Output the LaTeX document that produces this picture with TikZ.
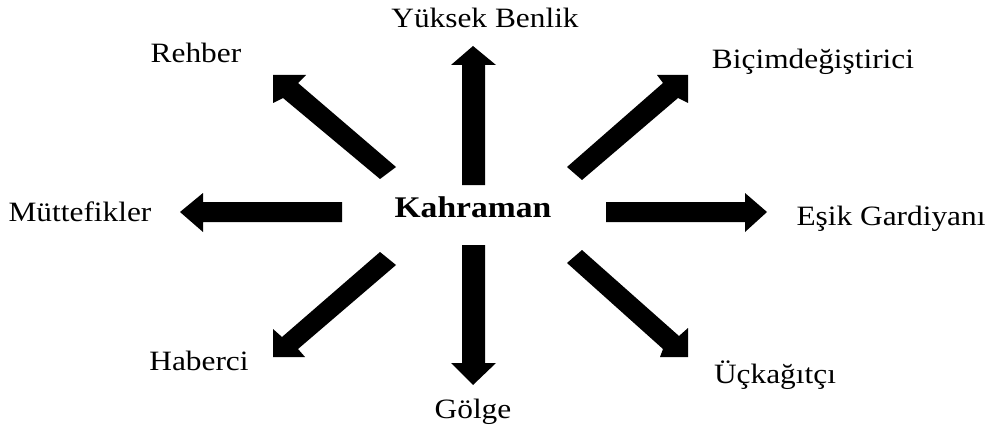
\documentclass[tikz,border=0pt]{standalone}
\usepackage{fontspec}
\setmainfont[FakeStretch=1.12]{Liberation Serif}
\begin{document}
\begin{tikzpicture}[x=1pt,y=1pt,
  label/.style={anchor=base,inner sep=0pt,font=\fontsize{28}{32}\selectfont},
  hero/.style={anchor=base,inner sep=0pt,font=\fontsize{30}{34}\selectfont\bfseries},
  blockarrow/.style={fill=black,draw=none}]
\useasboundingbox (0,0) rectangle (987,429);

% centre and surrounding archetypes
\node[hero]  (kahraman) at (473,212) {Kahraman};
\node[label] (yuksek)   at (485,401) {Yüksek Benlik};
\node[label] (rehber)   at (196,366) {Rehber};
\node[label] (bicim)    at (813,360) {Biçimdeğiştirici};
\node[label] (muttefik) at (80,208)  {Müttefikler};
\node[label] (esik)     at (891,204) {Eşik Gardiyanı};
\node[label] (haberci)  at (199,59)  {Haberci};
\node[label] (uckagit)  at (775,46)  {Üçkağıtçı};
\node[label] (golge)    at (473,11)  {Gölge};

% block arrows pointing outwards from the centre
\fill[blockarrow] (462,244) -- (462,364) -- (451,364) -- (473,383) -- (496,364) -- (485,364) -- (485,244) -- cycle;
\fill[blockarrow] (462,184) -- (462,66) -- (451,66) -- (473,44) -- (496,66) -- (485,66) -- (485,184) -- cycle;
\fill[blockarrow] (342,227) -- (203,227) -- (203,236) -- (180,217) -- (203,197) -- (203,207) -- (342,207) -- cycle;
\fill[blockarrow] (606,227) -- (745,227) -- (745,236) -- (767,217) -- (745,197) -- (745,207) -- (606,207) -- cycle;
\fill[blockarrow] (396,262) -- (298,346) -- (306,354) -- (273,354) -- (273,326) -- (283,331) -- (380,250) -- cycle;
\fill[blockarrow] (567,262) -- (663,346) -- (657,354) -- (688,354) -- (688,326) -- (678,331) -- (582,249) -- cycle;
\fill[blockarrow] (380,177) -- (282,92) -- (273,100) -- (273,72) -- (305,72) -- (298,80) -- (396,164) -- cycle;
\fill[blockarrow] (582,179) -- (679,93) -- (688,101) -- (688,72) -- (660,72) -- (663,80) -- (567,166) -- cycle;
\end{tikzpicture}
\end{document}
